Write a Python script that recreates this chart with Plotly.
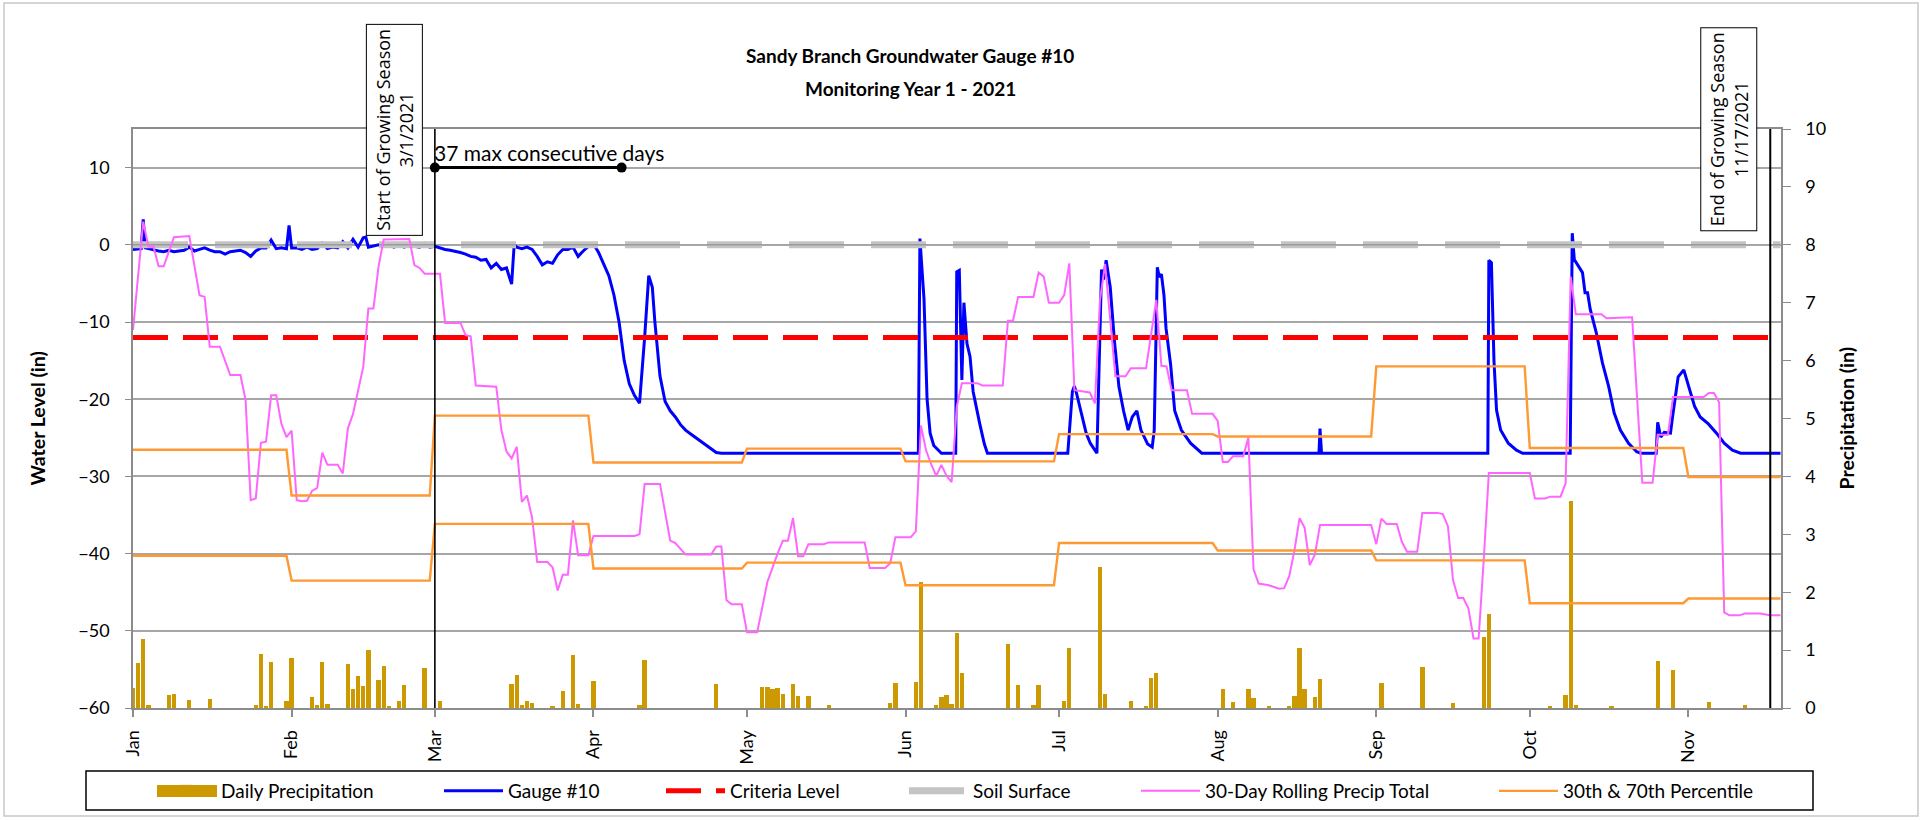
import pandas as pd
import plotly.graph_objects as go

# ---------------- data ----------------
BASE = "2021-01-01"
record_end = "2021-11-19"
growing_start = "2021-03-01"
growing_end = "2021-11-17"
max_consec_days = 37
criteria_level_in = -12.0
soil_surface_in = 0.0

# Gauge #10 water level (day offset from Jan 1, inches)
gauge_readings = [
    (0, -0.6), (1, -0.5), (1.6, -0.5), (2, 3.3), (2.4, -0.4), (3, -0.5), (4, -0.7), (5, -0.8),
    (6, -0.9), (7, -0.7), (8, -0.9), (9, -0.8), (10, -0.7), (11, -0.3), (12, -0.8), (13, -0.6),
    (14, -0.4), (15, -0.7), (16, -0.9), (17, -0.9), (18, -1.2), (19, -0.9), (20, -0.8), (21, -0.7),
    (22, -1.0), (23, -1.5), (24, -0.8), (25, -0.4), (26, -0.4), (27, 0.6), (28, -0.5), (29, -0.4),
    (30, -0.5), (30.5, 2.5), (31, -0.4), (32, -0.4), (33, -0.6), (34, -0.3), (35, -0.6), (36, -0.5),
    (37, 0.2), (38, -0.5), (39, -0.3), (40, -0.4), (41, 0.4), (42, -0.4), (43, 0.7), (44, -0.3),
    (45, 0.9), (45.5, 1.0), (46, -0.3), (47, -0.2), (48, 0.0), (49, -0.2), (50, 0.0), (51, -0.3),
    (52, 0.0), (53, -0.3), (54, 0.0), (55, -0.2), (56, -0.3), (57, 0.2), (58, -0.3), (59, -0.2),
    (60, -0.4), (61, -0.6), (62, -0.7), (63, -0.9), (64, -1.0), (65, -1.2), (66, -1.5), (67, -1.6),
    (68, -2.0), (69, -1.9), (70, -3.0), (71, -2.4), (72, -3.2), (73, -3.0), (73.5, -4.0), (74, -5.1),
    (74.5, 0.0), (75, -0.3), (76, -0.5), (77, -0.3), (78, -0.6), (79, -1.5), (80, -2.6), (81, -2.2),
    (82, -2.4), (83, -1.3), (84, -0.6), (85, -0.6), (86, -0.3), (87, -1.5), (88, -0.8), (89, -0.2),
    (90, 0.1), (91, -1.0), (92, -2.5), (93, -4.0), (94, -6.5), (95, -10.0), (96, -15.0), (97, -18.0),
    (98, -19.5), (99, -20.5), (100, -12.0), (100.8, -4.0), (101.5, -5.5), (102, -10.0), (103, -17.0),
    (104, -20.3), (105, -21.5), (106, -22.3), (107, -23.3), (108, -24.0), (109, -24.5), (110, -25.0),
    (111, -25.5), (112, -26.0), (113, -26.5), (114, -26.9), (115, -27.0), (153.5, -27.0),
    (153.8, 0.8), (154.2, -2.8), (154.6, -7.0), (155.2, -20.0), (155.8, -24.4), (156.5, -26.0),
    (158, -27.0), (160.8, -27.0), (161.0, -3.5), (161.5, -3.3), (162.0, -17.5), (162.4, -7.5),
    (163.0, -12.8), (163.6, -14.5), (164.2, -19.0), (165.5, -23.2), (166.4, -25.8), (167, -27.0),
    (182.7, -27.0), (183.6, -19.0), (184.0, -18.3), (184.4, -19.2), (185.4, -22.0), (186.3, -24.4),
    (187.1, -25.7), (188.0, -26.7), (188.4, -27.0), (189.3, -3.2), (189.7, -4.5), (190.2, -2.0),
    (191.0, -5.5), (191.8, -12.3), (192.7, -18.4), (193.6, -21.5), (194.5, -24.0), (195.3, -22.3),
    (196.2, -21.5), (197.0, -24.0), (198.3, -25.8), (199.2, -26.2), (199.6, -24.0), (200.2, -2.9),
    (200.6, -4.2), (201.0, -3.8), (201.5, -6.5), (201.9, -10.8), (202.8, -15.5), (203.6, -21.5),
    (204.9, -24.0), (206.7, -25.7), (208.9, -27.0), (231.8, -27.0), (232.0, -23.8), (232.3, -27.0),
    (264.8, -27.0), (265.0, -2.0), (265.5, -2.3), (266.0, -15.0), (266.5, -21.4), (267.3, -24.0),
    (268.8, -25.7), (270.4, -26.6), (271.6, -27.0), (280.9, -27.0), (281.3, 1.5), (281.7, -1.9),
    (282.5, -2.7), (283.3, -3.6), (283.8, -6.2), (284.3, -6.2), (284.8, -8.3), (286.0, -11.4),
    (287.2, -15.3), (288.4, -18.3), (289.5, -21.8), (290.7, -24.0), (292.3, -25.7), (293.9, -26.8),
    (294.7, -27.0), (297.7, -27.0), (298.0, -23.0), (298.6, -24.9), (299.3, -24.3), (300.5, -24.4),
    (300.9, -22.3), (302.0, -17.1), (303.1, -16.2), (304.0, -18.3), (305.2, -20.9), (306.3, -22.3),
    (307.9, -23.2), (309.5, -24.4), (311.0, -25.7), (312.6, -26.6), (314.2, -27.0), (322, -27.0),
]

# Daily precipitation (day offset, inches)
precip_readings = [
    (0, 0.34), (1, 0.77), (2, 1.19), (3, 0.05), (7, 0.22), (8, 0.25), (11, 0.14), (15, 0.15),
    (24, 0.05), (25, 0.94), (26, 0.04), (27, 0.80), (30, 0.12), (31, 0.87), (35, 0.19), (36, 0.06),
    (37, 0.80), (38, 0.07), (42, 0.76), (43, 0.32), (44, 0.55), (45, 0.38), (46, 1.00), (48, 0.48),
    (49, 0.73), (50, 0.03), (52, 0.12), (53, 0.40), (57, 0.69), (60, 0.12), (74, 0.41), (75, 0.57),
    (76, 0.05), (77, 0.12), (78, 0.08), (82, 0.03), (84, 0.29), (86, 0.92), (87, 0.07), (90, 0.47),
    (99, 0.05), (100, 0.83), (114, 0.41), (123, 0.36), (124, 0.36), (125, 0.32), (126, 0.34),
    (127, 0.25), (129, 0.42), (130, 0.20), (132, 0.21), (136, 0.05), (148, 0.09), (149, 0.44),
    (153, 0.45), (154, 2.18), (157, 0.05), (158, 0.19), (159, 0.22), (160, 0.07), (161, 1.29),
    (162, 0.61), (171, 1.10), (173, 0.40), (176, 0.05), (177, 0.39), (182, 0.12), (183, 1.03),
    (189, 2.44), (190, 0.25), (195, 0.12), (198, 0.04), (199, 0.52), (200, 0.61), (213, 0.32),
    (215, 0.10), (218, 0.32), (219, 0.18), (222, 0.04), (226, 0.04), (227, 0.20), (228, 1.03),
    (229, 0.32), (231, 0.19), (232, 0.50), (244, 0.44), (252, 0.70), (258, 0.08), (264, 1.22),
    (265, 1.62), (277, 0.03), (280, 0.23), (281, 3.58), (282, 0.06), (289, 0.03), (298, 0.82),
    (301, 0.66), (308, 0.10), (315, 0.05),
]

# 30-day rolling precipitation total (day offset, inches)
rolling30_readings = [
    (0, 6.53), (2, 8.40), (3, 7.97), (4, 7.97), (5, 7.63), (6, 7.63), (8, 8.13), (11, 8.15),
    (13, 7.13), (14, 7.10), (15, 6.24), (17, 6.24), (19, 5.75), (21, 5.75), (22, 5.32), (23, 3.59),
    (24, 3.62), (25, 4.58), (26, 4.60), (27, 5.40), (28, 5.40), (29, 4.91), (30, 4.68), (31, 4.79),
    (32, 3.59), (33, 3.57), (34, 3.58), (35, 3.75), (36, 3.80), (37, 4.41), (38, 4.20), (40, 4.20),
    (41, 4.05), (42, 4.83), (43, 5.08), (45, 5.89), (46, 6.90), (47, 6.90), (48, 7.63), (49, 8.09),
    (54, 8.10), (55, 7.65), (56, 7.60), (57, 7.50), (60, 7.50), (61, 6.65), (64, 6.65), (65, 6.44),
    (66, 6.42), (67, 5.57), (71, 5.55), (72, 4.80), (73, 4.43), (74, 4.31), (75, 4.51), (76, 3.56),
    (77, 3.67), (78, 3.29), (79, 2.52), (81, 2.52), (82, 2.43), (83, 2.03), (84, 2.30), (85, 2.30),
    (86, 3.24), (87, 2.64), (89, 2.64), (90, 2.97), (98, 2.97), (99, 3.00), (100, 3.87), (103, 3.87),
    (105, 2.89), (106, 2.85), (108, 2.65), (113, 2.65), (114, 2.79), (115, 2.79), (116, 1.86),
    (117, 1.79), (119, 1.79), (120, 1.31), (122, 1.31), (124, 2.18), (126, 2.67), (127, 2.89),
    (128, 2.89), (129, 3.28), (130, 2.62), (131, 2.62), (132, 2.83), (135, 2.83), (136, 2.86),
    (143, 2.86), (144, 2.42), (147, 2.42), (148, 2.50), (149, 2.95), (152, 2.95), (153, 3.05),
    (154, 4.88), (155, 4.45), (156, 4.21), (157, 4.01), (158, 4.20), (159, 4.01), (160, 3.90),
    (161, 5.20), (162, 5.61), (165, 5.61), (166, 5.57), (170, 5.57), (171, 6.69), (172, 6.69),
    (173, 7.10), (176, 7.10), (177, 7.52), (178, 7.45), (179, 7.00), (181, 7.00), (182, 7.13),
    (183, 7.68), (184, 5.49), (187, 5.45), (188, 5.26), (189, 7.05), (190, 7.67), (191, 6.76),
    (192, 5.73), (194, 5.73), (195, 5.87), (198, 5.87), (200, 7.05), (201, 5.91), (202, 5.90),
    (203, 5.49), (206, 5.49), (207, 5.08), (211, 5.08), (212, 4.96), (213, 4.25), (214, 4.25),
    (215, 4.35), (217, 4.35), (218, 4.67), (219, 2.40), (220, 2.15), (222, 2.12), (224, 2.06),
    (225, 2.07), (226, 2.28), (227, 2.72), (228, 3.28), (229, 3.11), (230, 2.47), (231, 2.65),
    (232, 3.16), (242, 3.16), (243, 2.83), (244, 3.27), (245, 3.18), (247, 3.18), (248, 2.87),
    (249, 2.70), (251, 2.70), (252, 3.37), (255, 3.37), (256, 3.35), (257, 3.14), (258, 2.21),
    (259, 1.90), (260, 1.90), (261, 1.72), (262, 1.20), (263, 1.20), (264, 2.56), (265, 4.06),
    (273, 4.06), (274, 3.62), (276, 3.62), (277, 3.65), (279, 3.65), (280, 3.88), (281, 7.45),
    (282, 6.80), (287, 6.80), (288, 6.73), (293, 6.75), (295, 3.89), (297, 3.89), (298, 4.72),
    (300, 4.72), (301, 5.37), (307, 5.37), (308, 5.44), (309, 5.44), (310, 5.28), (311, 1.65),
    (312, 1.60), (314, 1.60), (315, 1.63), (318, 1.63), (320, 1.60), (322, 1.60),
]

# Monthly 30th / 70th percentile precipitation (inches)
month_starts = ["2021-01-01", "2021-02-01", "2021-03-01", "2021-04-01", "2021-05-01", "2021-06-01",
                "2021-07-01", "2021-08-01", "2021-09-01", "2021-10-01", "2021-11-01"]
month_labels = ["Jan", "Feb", "Mar", "Apr", "May", "Jun", "Jul", "Aug", "Sep", "Oct", "Nov"]
pct70_in = [4.46, 3.67, 5.05, 4.24, 4.48, 4.26, 4.73, 4.69, 5.90, 4.49, 3.99]
pct30_in = [2.63, 2.20, 3.18, 2.41, 2.51, 2.12, 2.85, 2.72, 2.55, 1.81, 1.89]

water_ticks = [-60, -50, -40, -30, -20, -10, 0, 10]
precip_ticks = list(range(0, 11))

# ---------------- build ----------------
base = pd.Timestamp(BASE)
def to_dates(days):
    return [base + pd.Timedelta(days=float(d)) for d in days]

g_x = to_dates([d for d, _ in gauge_readings]); g_y = [v for _, v in gauge_readings]
p_x = to_dates([d for d, _ in precip_readings]); p_y = [v for _, v in precip_readings]
r_x = to_dates([d for d, _ in rolling30_readings]); r_y = [v for _, v in rolling30_readings]

end_ts = pd.Timestamp(record_end)
pct_x, p70_y, p30_y = [], [], []
for i, ms in enumerate(month_starts):
    s = pd.Timestamp(ms)
    e = pd.Timestamp(month_starts[i + 1]) - pd.Timedelta(days=1) if i + 1 < len(month_starts) else end_ts
    pct_x += [s, e]
    p70_y += [pct70_in[i], pct70_in[i]]
    p30_y += [pct30_in[i], pct30_in[i]]

flat_x = [base, end_ts]

FONT = "Lato, Carlito, Calibri, sans-serif"
BOXFONT = "Open Sans, sans-serif"
GRID = "#A6A6A6"
AXIS = "#8C8C8C"

fig = go.Figure()

# primary axis series
fig.add_trace(go.Scatter(x=g_x, y=g_y, mode="lines", name="Gauge #10",
                         line=dict(color="#0000FF", width=3), legend="legend2"))
fig.add_trace(go.Scatter(x=flat_x, y=[criteria_level_in] * 2, mode="lines", name="Criteria Level",
                         line=dict(color="#FF0000", width=5, dash="35px,15px"), legend="legend3"))
fig.add_trace(go.Scatter(x=flat_x, y=[soil_surface_in] * 2, mode="lines", name="Soil Surface",
                         line=dict(color="#C4C4C4", width=7, dash="55px,27px"), legend="legend4"))
fig.add_trace(go.Scatter(x=flat_x, y=[soil_surface_in] * 2, mode="lines", showlegend=False,
                         line=dict(color="#9A9A9A", width=1.4, dash="55px,27px"), hoverinfo="skip"))

# max consecutive days bar
mc_start = pd.Timestamp(growing_start)
mc_end = mc_start + pd.Timedelta(days=max_consec_days - 0.5)
fig.add_trace(go.Scatter(x=[mc_start, mc_end], y=[10, 10], mode="lines+markers", showlegend=False,
                         line=dict(color="black", width=3), marker=dict(color="black", size=10)))

# secondary axis series
fig.add_trace(go.Bar(x=p_x, y=p_y, yaxis="y2", name="Daily Precipitation",
                     marker=dict(color="#CC9900", line=dict(width=0)),
                     width=0.85 * 86400000, legend="legend"))
fig.add_trace(go.Scatter(x=r_x, y=r_y, yaxis="y2", mode="lines", name="30-Day Rolling Precip Total",
                         line=dict(color="#FF66FF", width=2), legend="legend5"))
fig.add_trace(go.Scatter(x=pct_x, y=p70_y, yaxis="y2", mode="lines", name="30th & 70th Percentile",
                         line=dict(color="#FF9933", width=2.4), legend="legend6"))
fig.add_trace(go.Scatter(x=pct_x, y=p30_y, yaxis="y2", mode="lines", showlegend=False,
                         line=dict(color="#FF9933", width=2.4)))

W, H = 1927, 821
L, R, T, B = 133, 146, 129, 113
PW, PH = W - L - R, H - T - B
def px(X): return (X - L) / PW
def py(Y): return (H - B - Y) / PH

legend_common = dict(orientation="h", yanchor="middle", xanchor="left", y=py(791),
                     bgcolor="rgba(0,0,0,0)", borderwidth=0, itemwidth=59,
                     font=dict(family=FONT, size=19, color="black"))
swatch_starts = [157, 444, 666, 909, 1141, 1499]
legends = {}
for i, sx in enumerate(swatch_starts):
    key = "legend" if i == 0 else f"legend{i+1}"
    legends[key] = dict(legend_common, x=px(sx - 5))

axis_font = dict(family=FONT, size=18, color="black")

fig.update_layout(
    width=W, height=H, template="none",
    margin=dict(l=L, r=R, t=T, b=B, autoexpand=False),
    paper_bgcolor="white", plot_bgcolor="white",
    bargap=0, showlegend=True,
    xaxis=dict(type="date", range=[base, end_ts + pd.Timedelta(hours=2.4)],
               tickvals=[pd.Timestamp(m) for m in month_starts], ticktext=month_labels,
               tickangle=-90, ticks="outside", ticklen=7, tickcolor=AXIS, tickwidth=1.5,
               showgrid=False, zeroline=False, showline=True, linecolor=AXIS, linewidth=2,
               mirror=True, tickfont=axis_font, automargin=False, ticklabelstandoff=6),
    yaxis=dict(range=[-60, 15], tickvals=water_ticks, showgrid=True, gridcolor=GRID, gridwidth=1.5,
               zeroline=False, showline=True, linecolor=AXIS, linewidth=1.5,
               ticks="outside", ticklen=6, tickcolor=AXIS, tickfont=axis_font,
               automargin=False, ticklabelstandoff=12),
    yaxis2=dict(range=[0, 10], tickvals=precip_ticks, overlaying="y", side="right", anchor="x",
                showgrid=False, zeroline=False, showline=True, linecolor=AXIS, linewidth=1.5,
                ticks="outside", ticklen=8, tickcolor=AXIS, tickfont=axis_font,
                automargin=False, ticklabelstandoff=11),
    **legends,
)

# vertical growing season lines
for d, w in [(growing_start, 1.6), (growing_end, 2)]:
    fig.add_shape(type="line", xref="x", yref="paper", x0=d, x1=d, y0=0, y1=1,
                  line=dict(color="black", width=w))

# legend frame, wide precipitation swatch, chart border
fig.add_shape(type="rect", xref="paper", yref="paper", x0=px(86), x1=px(1813), y0=py(810), y1=py(771),
              line=dict(color="black", width=1.5))
fig.add_shape(type="rect", xref="paper", yref="paper", x0=px(157), x1=px(217), y0=py(797), y1=py(785),
              line=dict(width=0), fillcolor="#CC9900")
fig.add_shape(type="rect", xref="paper", yref="paper", x0=px(4), x1=px(1918), y0=py(816), y1=py(3),
              line=dict(color="#C8C8C8", width=1.5))

# titles
fig.add_annotation(text="<b>Sandy Branch Groundwater Gauge #10</b>", xref="paper", yref="paper",
                   x=px(910), y=py(55), xanchor="center", yanchor="middle", showarrow=False,
                   font=dict(family=FONT, size=19, color="black"))
fig.add_annotation(text="<b>Monitoring Year 1 - 2021</b>", xref="paper", yref="paper",
                   x=px(910), y=py(88), xanchor="center", yanchor="middle", showarrow=False,
                   font=dict(family=FONT, size=19, color="black"))
fig.add_annotation(text="<b>Water Level (in)</b>", xref="paper", yref="paper", x=px(37), y=0.5,
                   xanchor="center", yanchor="middle", textangle=-90, showarrow=False,
                   font=dict(family=FONT, size=19.5, color="black"))
fig.add_annotation(text="<b>Precipitation (in)</b>", xref="paper", yref="paper", x=px(1846), y=0.5,
                   xanchor="center", yanchor="middle", textangle=-90, showarrow=False,
                   font=dict(family=FONT, size=19.5, color="black"))

# growing season boxes
fig.add_annotation(text="Start of Growing Season<br>3/1/2021", xref="x", yref="paper",
                   x=growing_start, y=py(129.5), xanchor="right", yanchor="middle", xshift=-12,
                   textangle=-90, showarrow=False, bgcolor="white", bordercolor="black", borderwidth=1,
                   borderpad=4, font=dict(family=BOXFONT, size=18, color="black"))
fig.add_annotation(text="End of Growing Season<br>11/17/2021", xref="x", yref="paper",
                   x=growing_end, y=py(129.5), xanchor="right", yanchor="middle", xshift=-13,
                   textangle=-90, showarrow=False, bgcolor="white", bordercolor="black", borderwidth=1,
                   borderpad=4, font=dict(family=BOXFONT, size=18, color="black"))

fig.add_annotation(text=f"{max_consec_days} max consecutive days", xref="x", yref="y",
                   x=growing_start, y=10, xanchor="left", yanchor="middle", xshift=-3, yshift=15,
                   showarrow=False, font=dict(family=FONT, size=21, color="black"))

fig.write_html("out.html", config={"displayModeBar": False},
               post_script="document.body.style.margin='0px';")
